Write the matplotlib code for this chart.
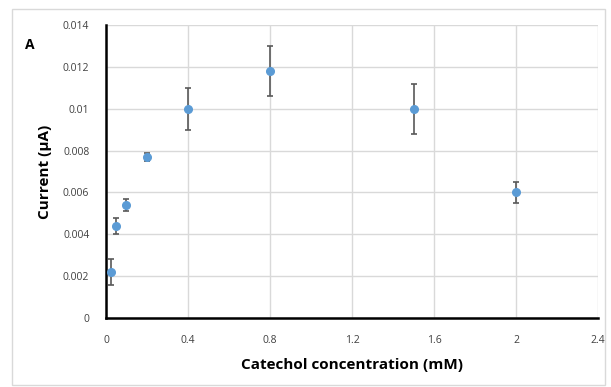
import numpy as np
import matplotlib.pyplot as plt
from matplotlib.patches import Rectangle

# data
conc = [0.025, 0.05, 0.1, 0.2, 0.4, 0.8, 1.5, 2.0]
current = [0.0022, 0.0044, 0.0054, 0.0077, 0.0100, 0.0118, 0.0100, 0.0060]
err = [0.0006, 0.0004, 0.0003, 0.0002, 0.0010, 0.0012, 0.0012, 0.0005]
xticks = [0, 0.4, 0.8, 1.2, 1.6, 2.0, 2.4]
xticklabels = ['0', '0.4', '0.8', '1.2', '1.6', '2', '2.4']
yticks = [0, 0.002, 0.004, 0.006, 0.008, 0.01, 0.012, 0.014]
yticklabels = ['0', '0.002', '0.004', '0.006', '0.008', '0.01', '0.012', '0.014']

plt.rcParams['font.family'] = ['Open Sans', 'DejaVu Sans']

fig = plt.figure(figsize=(6.11, 3.87), dpi=100)
# outer chart frame
fig.patches.append(Rectangle((12/611, 2/387), 593/611, 376/387, transform=fig.transFigure,
                             fill=False, edgecolor='#d9d9d9', linewidth=1))
ax = fig.add_axes([106/611, 1 - 318/387, 492/611, 293/387])

ax.errorbar(conc, current, yerr=err, fmt='o', color='#5b9bd5', markersize=5.5,
            ecolor='#595959', elinewidth=1.2, capsize=2.5, capthick=1.2, zorder=3)

ax.set_xlim(0, 2.4)
ax.set_ylim(0, 0.014)
ax.set_xticks(xticks)
ax.set_xticklabels(xticklabels)
ax.set_yticks(yticks)
ax.set_yticklabels(yticklabels)
ax.tick_params(labelsize=7.5, colors='#404040', length=0)
ax.tick_params(axis='x', pad=12)
ax.tick_params(axis='y', pad=12)
ax.grid(True, color='#d9d9d9', linewidth=1)
ax.set_axisbelow(True)

for s in ['top', 'right']:
    ax.spines[s].set_visible(False)
for s in ['left', 'bottom']:
    ax.spines[s].set_linewidth(1.8)
    ax.spines[s].set_color('black')

ax.set_xlabel('Catechol concentration (mM)', fontsize=11, fontweight='bold', labelpad=9)
ax.set_ylabel('Current (µA)', fontsize=11, fontweight='bold', labelpad=8)
fig.text(30/611, 1 - 45/387, 'A', fontsize=10, fontweight='bold', ha='center', va='center')

fig.savefig('out.png', dpi=100)
